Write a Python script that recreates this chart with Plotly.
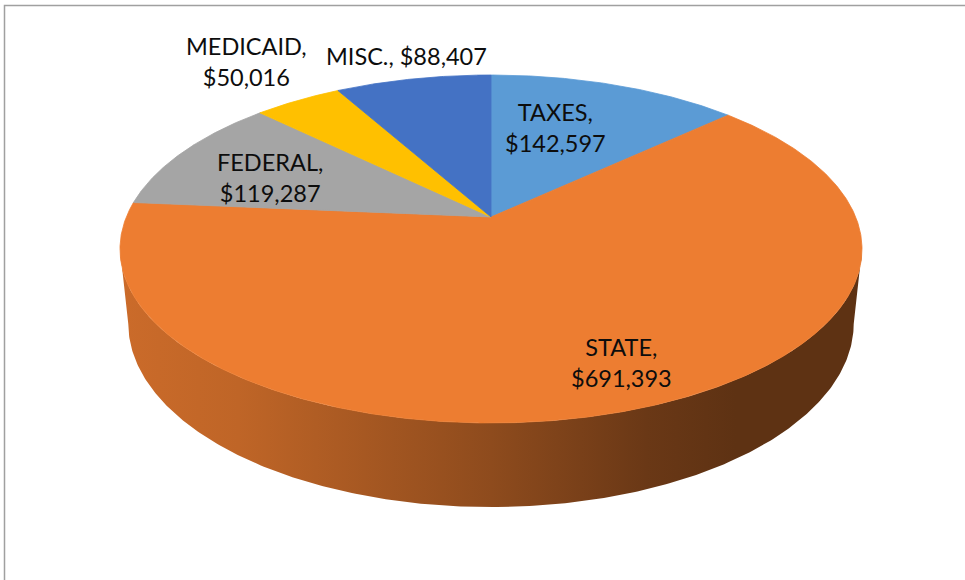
import numpy as np
import plotly.graph_objects as go

# ---------------- data ----------------
categories = ["TAXES", "STATE", "FEDERAL", "MEDICAID", "MISC."]
values = [142597, 691393, 119287, 50016, 88407]
colors = ["#5B9BD5", "#ED7D31", "#A5A5A5", "#FFC000", "#4472C4"]
label_sep = ["<br>", "<br>", "<br>", "<br>", " "]

# label placement (radius fraction, angular nudge in degrees)
label_r = [0.62, 0.81, 0.68, 1.38, 1.20]
label_dtheta = [-5.0, -3.5, -3.3, 1.5, 1.0]

# ---------------- 3D pie geometry (pixel units) ----------------
W, H = 965, 580
CX, CY = 491.0, 217.0          # projected pie centre
A_PIX, B_PIX, P = 364.7, 168.1, 0.1839
SIN_A = B_PIX / A_PIX
COS_A = np.sqrt(1 - SIN_A ** 2)
D = COS_A / P
F = A_PIX * D
THICK = 0.232                  # pie thickness relative to radius


def proj(X, Y, Z):
    depth = D - (Y * SIN_A + Z * COS_A)
    x = CX + F * X / depth
    y = CY + F * (Z * SIN_A - Y * COS_A) / depth
    return x, y


def circ(theta_deg, r=1.0, Y=0.0):
    t = np.radians(theta_deg)
    return proj(r * np.sin(t), Y, -r * np.cos(t))


total = float(sum(values))
fracs = [v / total for v in values]
starts = np.cumsum([0] + fracs[:-1]) * 360.0
ends = np.cumsum(fracs) * 360.0

# visible front side range
c_lim = -1.0 / (D * COS_A)
vis_lo = np.degrees(np.arccos(c_lim))
vis_hi = 360.0 - vis_lo


def shade(hex_color, k):
    h = hex_color.lstrip("#")
    r, g, b = (int(h[i:i + 2], 16) for i in (0, 2, 4))
    return "rgb(%d,%d,%d)" % (r * k, g * k, b * k)


fig = go.Figure()

# silhouette horizontal extent for gradient
xs_all, _ = circ(np.linspace(0, 360, 721))
gx0, gx1 = float(xs_all.min()), float(xs_all.max())

# side walls
for i, cat in enumerate(categories):
    t0 = max(starts[i], vis_lo - 3)
    t1 = min(ends[i], vis_hi + 3)
    if t1 <= t0:
        continue
    th = np.linspace(t0, t1, 300)
    xt, yt = circ(th, 1.0, 0.0)
    xb, yb = circ(th[::-1], 1.0, -THICK)
    xs = np.concatenate([xt, xb, xt[:1]])
    ys = np.concatenate([yt, yb, yt[:1]])
    stops = [0.0, 0.16, 0.5, 0.71, 0.83, 1.0]
    ks = [0.86, 0.81, 0.60, 0.45, 0.40, 0.40]
    fig.add_trace(go.Scatter(
        x=xs, y=ys, mode="lines", fill="toself",
        line=dict(width=0, color=shade(colors[i], 0.6)),
        fillgradient=dict(type="horizontal", start=gx0, stop=gx1,
                          colorscale=[[s, shade(colors[i], k)] for s, k in zip(stops, ks)]),
        hoverinfo="skip", showlegend=False))

# top faces
for i, cat in enumerate(categories):
    th = np.linspace(starts[i], ends[i], max(int((ends[i] - starts[i]) * 3), 20))
    xa, ya = circ(th)
    xs = np.concatenate([[CX], xa, [CX]])
    ys = np.concatenate([[CY], ya, [CY]])
    fig.add_trace(go.Scatter(
        x=xs, y=ys, mode="lines", fill="toself", fillcolor=colors[i],
        line=dict(width=0.8, color=colors[i]),
        name=cat, hoverinfo="skip", showlegend=False))

# labels
for i, cat in enumerate(categories):
    mid = (starts[i] + ends[i]) / 2 + label_dtheta[i]
    lx, ly = circ(mid, label_r[i])
    fig.add_annotation(
        x=float(lx), y=float(ly), xref="x", yref="y",
        text=f"{cat},{label_sep[i]}${values[i]:,}",
        showarrow=False, xanchor="center", yanchor="middle", align="center",
        font=dict(family="Lato", size=23.5, color="#0D0D0D"))

# chart border
fig.add_shape(type="rect", xref="x", yref="y", x0=4.5, y0=5.5, x1=W + 20, y1=H + 20,
              line=dict(color="#A0A0A0", width=1.5), fillcolor="rgba(0,0,0,0)", layer="above")

fig.update_layout(
    width=W, height=H,
    margin=dict(l=0, r=0, t=0, b=0),
    paper_bgcolor="white", plot_bgcolor="white",
    xaxis=dict(range=[0, W], visible=False, fixedrange=True),
    yaxis=dict(range=[H, 0], visible=False, fixedrange=True),
    showlegend=False,
)

fig.write_html("out.html", config={"displayModeBar": False},
               post_script="document.body.style.margin='0';document.body.style.overflow='hidden';")
